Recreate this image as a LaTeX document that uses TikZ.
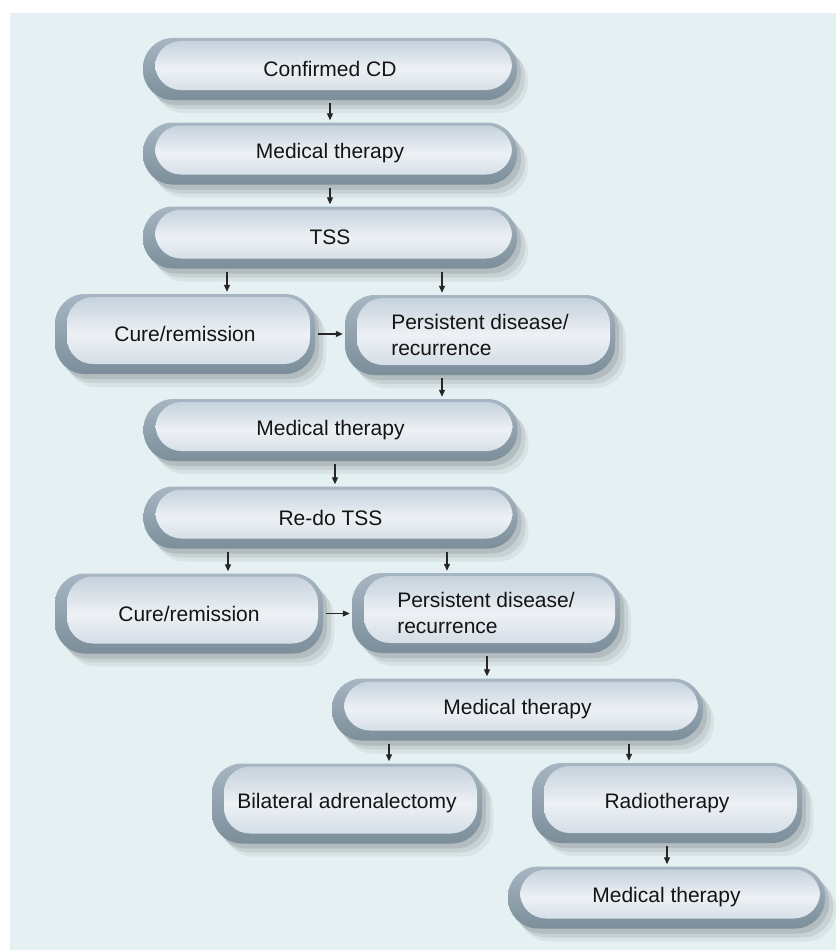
\documentclass[tikz,border=0pt]{standalone}
\usepackage{fontspec}
\setmainfont{Liberation Sans}
\usetikzlibrary{arrows.meta,shadows,calc}
\definecolor{bgblue}{HTML}{E4F0F2}
\definecolor{rimtop}{HTML}{A6B6C2}
\definecolor{rimbot}{HTML}{7B8E9A}
\definecolor{pilltop}{HTML}{C2CFDA}
\definecolor{pillmid}{HTML}{EDF1F5}
\definecolor{pillbot}{HTML}{CCD7E1}
\tikzset{
  pill/.style={rounded corners=30pt, top color=rimtop, bottom color=rimbot, align=center, inner sep=0pt,
    text=black!92, font=\fontsize{21}{26}\selectfont,
    drop shadow={shadow xshift=11pt, shadow yshift=-13pt, opacity=.05, fill=black},
    drop shadow={shadow xshift=8pt, shadow yshift=-9pt, opacity=.07, fill=black},
    drop shadow={shadow xshift=4pt, shadow yshift=-5pt, opacity=.10, fill=black},
    path picture={\shade[top color=pilltop, bottom color=pillbot, middle color=pillmid, rounded corners=26pt]
      ($(path picture bounding box.south west)+(12pt,10pt)$) rectangle ($(path picture bounding box.north east)+(-5pt,-3pt)$);}},
  wide/.style={pill, minimum width=374pt, minimum height=62pt},
  half/.style={pill, minimum width=270pt, minimum height=80pt},
  arr/.style={-{Triangle[length=7pt,width=6pt]}, line width=1.2pt, black!85, shorten <=3pt, shorten >=2pt}}

\begin{document}
\begin{tikzpicture}[x=1pt, y=-1pt]
  \useasboundingbox (0,0) rectangle (836,950);
  \fill[white] (0,0) rectangle (836,950);
  \fill[bgblue] (10,13) rectangle (836,950);

  \node[wide] (conf) at (330,69) {Confirmed CD};
  \node[wide] (med1) at (330,153.5) {Medical therapy};
  \node[wide] (tss) at (330,237.5) {TSS};
  \node[half, minimum width=260pt] (cure1) at (185,334) {Cure/remission};
  \node[half, align=left] (pers1) at (480,335) {Persistent disease/\\recurrence};
  \node[wide] (med2) at (330.5,430) {Medical therapy};
  \node[wide] (redo) at (330.5,517.5) {Re-do TSS};
  \node[half, minimum width=268pt] (cure2) at (189,613.5) {Cure/remission};
  \node[half, minimum width=268pt, align=left] (pers2) at (486,613) {Persistent disease/\\recurrence};
  \node[wide, minimum width=371pt] (med3) at (517.5,709.5) {Medical therapy};
  \node[half] (bilat) at (347,803.5) {Bilateral adrenalectomy};
  \node[half] (radio) at (667,803) {Radiotherapy};
  \node[wide, minimum width=317pt] (med4) at (666.5,897.5) {Medical therapy};

  \draw[arr] (conf.south) -- (med1.north);
  \draw[arr] (med1.south) -- (tss.north);
  \draw[arr] ([xshift=-103pt]tss.south) -- ([xshift=42pt]cure1.north);
  \draw[arr] ([xshift=112pt]tss.south) -- ([xshift=-38pt]pers1.north);
  \draw[arr] (cure1.east) -- (cure1.east -| pers1.west);
  \draw[arr] ([xshift=-38pt]pers1.south) -- ([xshift=111.5pt]med2.north);
  \draw[arr] ([xshift=4.5pt]med2.south) -- ([xshift=4.5pt]redo.north);
  \draw[arr] ([xshift=-102.5pt]redo.south) -- ([xshift=39pt]cure2.north);
  \draw[arr] ([xshift=116.5pt]redo.south) -- ([xshift=-39pt]pers2.north);
  \draw[arr] (cure2.east) -- (cure2.east -| pers2.west);
  \draw[arr] ([xshift=1pt]pers2.south) -- ([xshift=-30.5pt]med3.north);
  \draw[arr] ([xshift=-128.5pt]med3.south) -- ([xshift=42pt]bilat.north);
  \draw[arr] ([xshift=111.5pt]med3.south) -- ([xshift=-38pt]radio.north);
  \draw[arr] (radio.south) -- ([xshift=0.5pt]med4.north);
\end{tikzpicture}
\end{document}
